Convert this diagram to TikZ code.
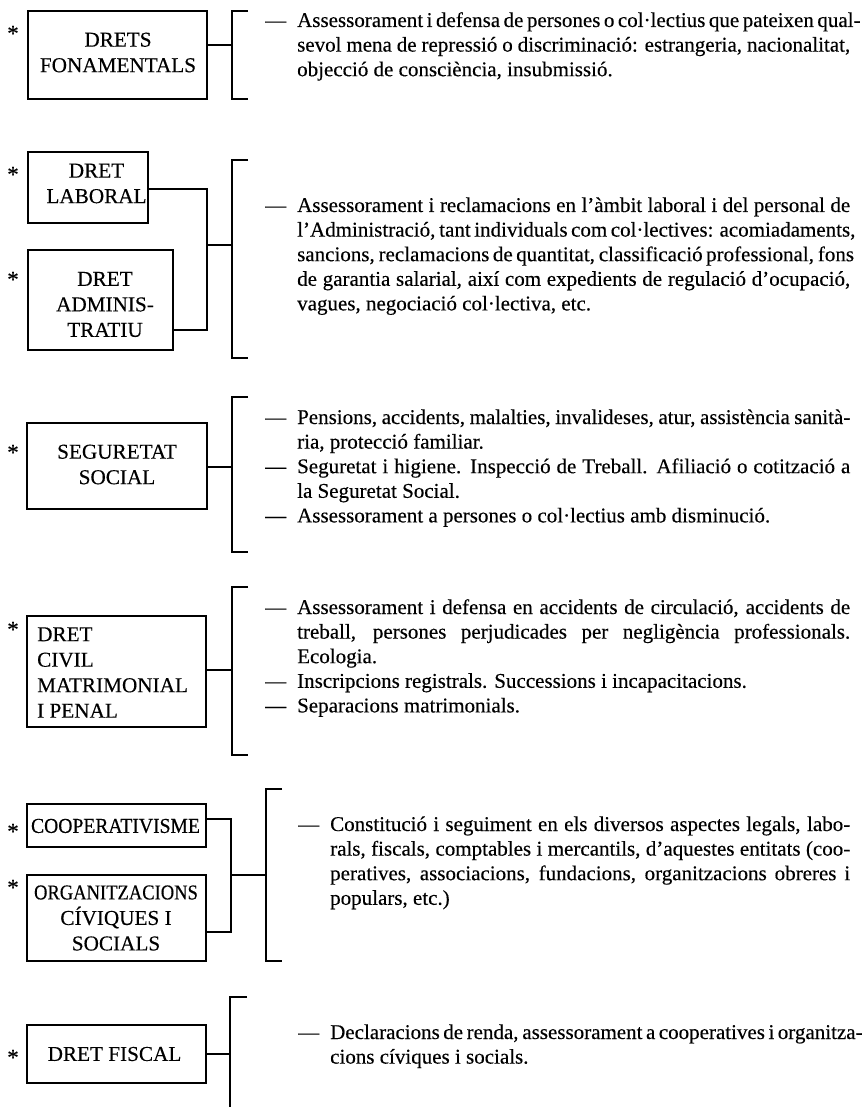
\documentclass[tikz,border=0pt]{standalone}
\usepackage{fontspec}
\setmainfont{Liberation Serif}[FakeBold=0.3]
\usetikzlibrary{calc}
\newlength\tw
\newcommand\jl[1]{\hbox to \tw{#1}}
\newcommand\fl[1]{\hbox to \tw{#1\hfil}}
\newcommand\dl[1]{\hbox to \tw{\llap{—\hskip 11pt}#1}}
\newcommand\dfl[1]{\hbox to \tw{\llap{—\hskip 11pt}#1\hfil}}
\newcommand\para[2]{\parbox[t]{#1}{\setlength\tw{#1}\baselineskip=24.6pt\lineskiplimit=-10pt #2}}
\begin{document}
\begin{tikzpicture}[x=1pt,y=-1pt,
  ln/.style={line width=1.2pt},
  box/.style={draw, line width=1.2pt, inner sep=0pt},
  lbl/.style={inner sep=0pt, align=center, font=\fontsize{21.2}{25.5}\selectfont},
  star/.style={inner sep=0pt, anchor=base, font=\fontsize{23}{24}\selectfont},
  txt/.style={inner sep=0pt, anchor=base west, font=\fontsize{21}{24.6}\selectfont}]
\useasboundingbox (0,0) rectangle (862,1107);

% boxes
\node[box, minimum width=179pt, minimum height=88pt]  (fon)  at (117.5,55) {};
\node[box, minimum width=120pt, minimum height=71pt]  (lab)  at (88,187.5) {};
\node[box, minimum width=145pt, minimum height=100pt] (adm)  at (100.5,300) {};
\node[box, minimum width=180pt, minimum height=86pt]  (seg)  at (117,466) {};
\node[box, minimum width=179pt, minimum height=111pt] (civ)  at (116.5,671.5) {};
\node[box, minimum width=179pt, minimum height=43pt]  (coop) at (116.5,825.5) {};
\node[box, minimum width=179pt, minimum height=86pt]  (org)  at (116.5,918) {};
\node[box, minimum width=179pt, minimum height=58pt]  (fis)  at (116.5,1054) {};

% labels
\node[lbl] (font) at (118,52.5) {DRETS\\FONAMENTALS};
\node[lbl] (labt) at (96.5,183.5) {DRET\\LABORAL};
\node[lbl] (admt) at (105,304.5) {DRET\\ADMINIS-\\TRATIU};
\node[lbl] (segt) at (117,464.5) {SEGURETAT\\SOCIAL};
\node[lbl, align=left, anchor=west] (civt) at (37,672.5) {DRET\\CIVIL\\MATRIMONIAL\\I PENAL};
\node[lbl] (coopt) at (115.5,826) {\scalebox{0.925}[1]{COOPERATIVISME}};
\node[lbl] (orgt) at (116,918) {\scalebox{0.875}[1]{ORGANITZACIONS}\\CÍVIQUES I\\SOCIALS};
\node[lbl] (fist) at (114.5,1054) {DRET FISCAL};

% asterisks
\node[star] (s1) at (13,41) {*};
\node[star] (s2) at (13,182) {*};
\node[star] (s3) at (13,287) {*};
\node[star] (s4) at (13,460) {*};
\node[star] (s5) at (13,637) {*};
\node[star] (s6) at (13,839) {*};
\node[star] (s7) at (13,895) {*};
\node[star] (s8) at (13,1065) {*};

% brackets
\coordinate (b1t) at (232,11);  \coordinate (b1b) at (232,99);
\coordinate (b2t) at (232,160); \coordinate (b2b) at (232,358);
\coordinate (b3t) at (232,397); \coordinate (b3b) at (232,552);
\coordinate (b4t) at (232,587); \coordinate (b4b) at (232,755);
\coordinate (b5t) at (266,789); \coordinate (b5b) at (266,961);
\coordinate (b6t) at (230,997); \coordinate (b6b) at (230,1108);
\foreach \b in {1,2,3,4,5}{
  \draw[ln] ([xshift=16pt]b\b t) -- (b\b t) -- (b\b b) -- ([xshift=16pt]b\b b);
}
\draw[ln] ([xshift=17pt]b6t) -- (b6t) -- (b6b);

% connectors
\coordinate (j1) at (232,45);
\draw[ln] (fon.east |- j1) -- (j1);
\coordinate (k2a) at (207,189); \coordinate (k2b) at (207,330);
\coordinate (m2) at (207,245); \coordinate (j2) at (232,245);
\draw[ln] (lab.east |- k2a) -- (k2a) -- (k2b) -- (adm.east |- k2b);
\draw[ln] (m2) -- (j2);
\coordinate (j3) at (232,467);
\draw[ln] (seg.east |- j3) -- (j3);
\coordinate (j4) at (232,670);
\draw[ln] (civ.east |- j4) -- (j4);
\coordinate (k5a) at (231,819); \coordinate (k5b) at (231,932);
\coordinate (m5) at (231,875); \coordinate (j5) at (266,875);
\draw[ln] (coop.east |- k5a) -- (k5a) -- (k5b) -- (org.east |- k5b);
\draw[ln] (m5) -- (j5);
\coordinate (j6) at (230,1054);
\draw[ln] (fis.east |- j6) -- (j6);

% texts
\node[txt] (t1) at (297,27) {\para{553pt}{%
\dl{Assessorament i defensa de persones o col·lectius que pateixen qual-}
\jl{sevol mena de repressió o discriminació: estrangeria, nacionalitat,}
\fl{objecció de consciència, insubmissió.}}};

\node[txt] (t2) at (297,212) {\para{553pt}{%
\dl{Assessorament i reclamacions en l’àmbit laboral i del personal de}
\jl{l’Administració, tant individuals com col·lectives: acomiadaments,}
\jl{sancions, reclamacions de quantitat, classificació professional, fons}
\jl{de garantia salarial, així com expedients de regulació d’ocupació,}
\fl{vagues, negociació col·lectiva, etc.}}};

\node[txt] (t3) at (297,424) {\para{553pt}{%
\dl{Pensions, accidents, malalties, invalideses, atur, assistència sanità-}
\fl{ria, protecció familiar.}
\dl{Seguretat i higiene. Inspecció de Treball. Afiliació o cotització a}
\fl{la Seguretat Social.}
\dfl{Assessorament a persones o col·lectius amb disminució.}}};

\node[txt] (t4) at (297,614) {\para{553pt}{%
\dl{Assessorament i defensa en accidents de circulació, accidents de}
\jl{treball, persones perjudicades per negligència professionals.}
\fl{Ecologia.}
\dfl{Inscripcions registrals. Successions i incapacitacions.}
\dfl{Separacions matrimonials.}}};

\node[txt] (t5) at (330,831) {\para{520pt}{%
\dl{Constitució i seguiment en els diversos aspectes legals, labo-}
\jl{rals, fiscals, comptables i mercantils, d’aquestes entitats (coo-}
\jl{peratives, associacions, fundacions, organitzacions obreres i}
\fl{populars, etc.)}}};

\node[txt] (t6) at (330,1039) {\para{520pt}{%
\dl{Declaracions de renda, assessorament a cooperatives i organitza-}
\fl{cions cíviques i socials.}}};
\end{tikzpicture}
\end{document}
